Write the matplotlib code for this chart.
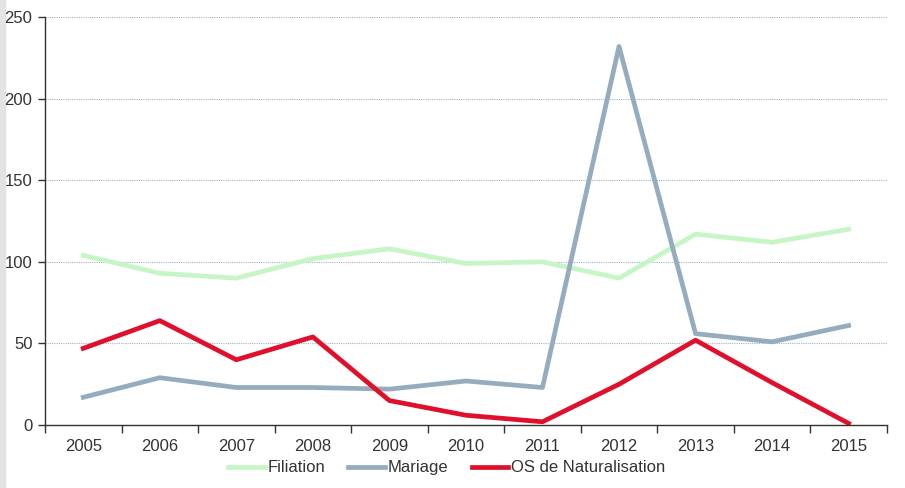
import matplotlib
matplotlib.use("Agg")
import matplotlib.pyplot as plt
import matplotlib.patches as mpatches
import numpy as np

years = ["2005", "2006", "2007", "2008", "2009", "2010", "2011", "2012", "2013", "2014", "2015"]
filiation = [104, 93, 90, 102, 108, 99, 100, 90, 117, 112, 120]
mariage = [17, 29, 23, 23, 22, 27, 23, 232, 56, 51, 61]
naturalisation = [47, 64, 40, 54, 15, 6, 2, 25, 52, 26, 1]

COLORS = {
    "filiation": "#c6f5c6",
    "mariage": "#95acbf",
    "natur": "#e0102d",
    "grid": "#9fb6c8",
    "text": "#333333",
}

plt.rcParams["font.family"] = ["Liberation Sans", "DejaVu Sans"]

fig = plt.figure(figsize=(9.05, 4.88), dpi=100)
ax = fig.add_axes([0.0497, 0.129, 0.9303, 0.836])

# bande grise a gauche (derriere le texte)
fig.patches.append(mpatches.Rectangle((0, 0), 0.005, 1, transform=fig.transFigure,
                                      color="#e3e3e3", zorder=-1))

x = np.arange(len(years))
ax.plot(x, filiation, color=COLORS["filiation"], lw=3.4, label="Filiation")
ax.plot(x, mariage, color=COLORS["mariage"], lw=3.4, label="Mariage")
ax.plot(x, naturalisation, color=COLORS["natur"], lw=3.4, label="OS de Naturalisation")

ax.set_xlim(-0.5, len(years) - 0.5)
ax.set_ylim(0, 250)
ax.set_yticks([0, 50, 100, 150, 200, 250])
ax.set_xticks(x)
ax.set_xticklabels(years)
ax.set_xticks(np.arange(-0.5, len(years)), minor=True)
ax.tick_params(axis="x", which="major", length=0, pad=10, labelsize=12, colors=COLORS["text"])
ax.tick_params(axis="x", which="minor", length=6, width=1, color="#333333")
ax.tick_params(axis="y", length=5, width=1, labelsize=12, colors=COLORS["text"], pad=4)

ax.grid(axis="y", color=COLORS["grid"], linestyle=(0, (1, 1)), lw=0.8)
ax.set_axisbelow(True)
for s in ["top", "right"]:
    ax.spines[s].set_visible(False)
for s in ["left", "bottom"]:
    ax.spines[s].set_color("#333333")
    ax.spines[s].set_linewidth(1)

ax.legend(loc="upper center", bbox_to_anchor=(0.477, -0.05), ncol=3, frameon=False,
          fontsize=12, handlelength=2.2, handletextpad=0.15, columnspacing=1.4,
          labelcolor=COLORS["text"])

fig.savefig("out.png", dpi=100)
